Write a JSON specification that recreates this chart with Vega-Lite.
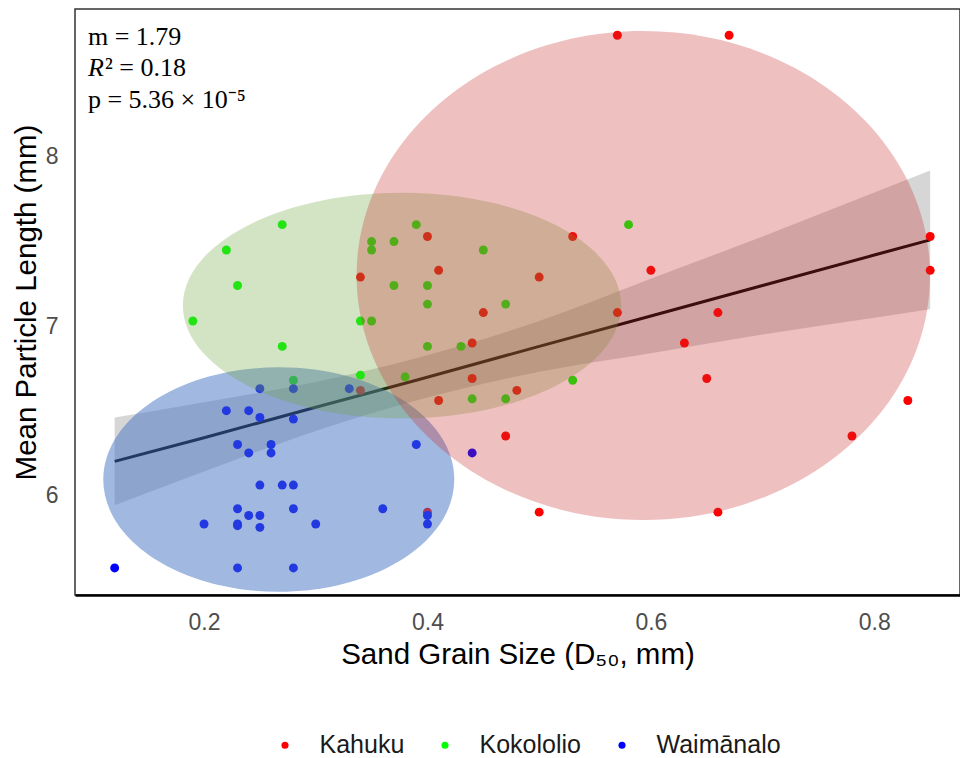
{
  "$schema": "https://vega.github.io/schema/vega-lite/v6.json",
  "width": 885,
  "height": 586,
  "autosize": {"type": "none"},
  "padding": {"left": 75, "top": 9, "right": 0, "bottom": 163},
  "background": "white",
  "config": {
    "view": {"stroke": "#333333", "strokeWidth": 1.5},
    "font": "Liberation Sans",
    "axis": {
      "grid": false,
      "ticks": false,
      "tickSize": 0,
      "labelFont": "Liberation Sans",
      "labelFontSize": 23,
      "labelColor": "#4d4d4d",
      "titleFont": "Liberation Sans",
      "titleFontSize": 29.5,
      "titleFontWeight": "normal",
      "titleColor": "#000000"
    }
  },
  "datasets": {
    "points": [
      {"site": "Kahuku", "d50": 0.34, "len": 7.29},
      {"site": "Kahuku", "d50": 0.40, "len": 7.53},
      {"site": "Kahuku", "d50": 0.41, "len": 7.33},
      {"site": "Kahuku", "d50": 0.34, "len": 6.62},
      {"site": "Kahuku", "d50": 0.41, "len": 6.56},
      {"site": "Kahuku", "d50": 0.40, "len": 5.90},
      {"site": "Kahuku", "d50": 0.45, "len": 7.08},
      {"site": "Kahuku", "d50": 0.44, "len": 6.90},
      {"site": "Kahuku", "d50": 0.44, "len": 6.69},
      {"site": "Kahuku", "d50": 0.48, "len": 6.62},
      {"site": "Kahuku", "d50": 0.50, "len": 7.29},
      {"site": "Kahuku", "d50": 0.53, "len": 7.53},
      {"site": "Kahuku", "d50": 0.57, "len": 7.08},
      {"site": "Kahuku", "d50": 0.60, "len": 7.33},
      {"site": "Kahuku", "d50": 0.57, "len": 8.72},
      {"site": "Kahuku", "d50": 0.67, "len": 8.72},
      {"site": "Kahuku", "d50": 0.85, "len": 7.53},
      {"site": "Kahuku", "d50": 0.85, "len": 7.33},
      {"site": "Kahuku", "d50": 0.66, "len": 7.08},
      {"site": "Kahuku", "d50": 0.63, "len": 6.90},
      {"site": "Kahuku", "d50": 0.65, "len": 6.69},
      {"site": "Kahuku", "d50": 0.83, "len": 6.56},
      {"site": "Kahuku", "d50": 0.47, "len": 6.35},
      {"site": "Kahuku", "d50": 0.78, "len": 6.35},
      {"site": "Kahuku", "d50": 0.50, "len": 5.90},
      {"site": "Kahuku", "d50": 0.66, "len": 5.90},
      {"site": "Kokololio", "d50": 0.27, "len": 7.60},
      {"site": "Kokololio", "d50": 0.22, "len": 7.45},
      {"site": "Kokololio", "d50": 0.23, "len": 7.24},
      {"site": "Kokololio", "d50": 0.19, "len": 7.03},
      {"site": "Kokololio", "d50": 0.27, "len": 6.88},
      {"site": "Kokololio", "d50": 0.28, "len": 6.68},
      {"site": "Kokololio", "d50": 0.34, "len": 6.71},
      {"site": "Kokololio", "d50": 0.34, "len": 7.03},
      {"site": "Kokololio", "d50": 0.35, "len": 7.03},
      {"site": "Kokololio", "d50": 0.35, "len": 7.50},
      {"site": "Kokololio", "d50": 0.35, "len": 7.45},
      {"site": "Kokololio", "d50": 0.37, "len": 7.50},
      {"site": "Kokololio", "d50": 0.39, "len": 7.60},
      {"site": "Kokololio", "d50": 0.37, "len": 7.24},
      {"site": "Kokololio", "d50": 0.40, "len": 7.24},
      {"site": "Kokololio", "d50": 0.40, "len": 7.13},
      {"site": "Kokololio", "d50": 0.40, "len": 6.88},
      {"site": "Kokololio", "d50": 0.38, "len": 6.70},
      {"site": "Kokololio", "d50": 0.45, "len": 7.45},
      {"site": "Kokololio", "d50": 0.47, "len": 7.13},
      {"site": "Kokololio", "d50": 0.43, "len": 6.88},
      {"site": "Kokololio", "d50": 0.44, "len": 6.57},
      {"site": "Kokololio", "d50": 0.47, "len": 6.57},
      {"site": "Kokololio", "d50": 0.58, "len": 7.60},
      {"site": "Kokololio", "d50": 0.53, "len": 6.68},
      {"site": "Waimānalo", "d50": 0.25, "len": 6.63},
      {"site": "Waimānalo", "d50": 0.28, "len": 6.63},
      {"site": "Waimānalo", "d50": 0.33, "len": 6.63},
      {"site": "Waimānalo", "d50": 0.22, "len": 6.50},
      {"site": "Waimānalo", "d50": 0.24, "len": 6.50},
      {"site": "Waimānalo", "d50": 0.25, "len": 6.46},
      {"site": "Waimānalo", "d50": 0.28, "len": 6.45},
      {"site": "Waimānalo", "d50": 0.23, "len": 6.30},
      {"site": "Waimānalo", "d50": 0.26, "len": 6.30},
      {"site": "Waimānalo", "d50": 0.24, "len": 6.25},
      {"site": "Waimānalo", "d50": 0.26, "len": 6.25},
      {"site": "Waimānalo", "d50": 0.39, "len": 6.30},
      {"site": "Waimānalo", "d50": 0.25, "len": 6.06},
      {"site": "Waimānalo", "d50": 0.27, "len": 6.06},
      {"site": "Waimānalo", "d50": 0.28, "len": 6.06},
      {"site": "Waimānalo", "d50": 0.23, "len": 5.92},
      {"site": "Waimānalo", "d50": 0.28, "len": 5.92},
      {"site": "Waimānalo", "d50": 0.36, "len": 5.92},
      {"site": "Waimānalo", "d50": 0.24, "len": 5.88},
      {"site": "Waimānalo", "d50": 0.25, "len": 5.88},
      {"site": "Waimānalo", "d50": 0.40, "len": 5.88},
      {"site": "Waimānalo", "d50": 0.20, "len": 5.83},
      {"site": "Waimānalo", "d50": 0.23, "len": 5.83},
      {"site": "Waimānalo", "d50": 0.23, "len": 5.82},
      {"site": "Waimānalo", "d50": 0.25, "len": 5.81},
      {"site": "Waimānalo", "d50": 0.30, "len": 5.83},
      {"site": "Waimānalo", "d50": 0.40, "len": 5.83},
      {"site": "Waimānalo", "d50": 0.12, "len": 5.57},
      {"site": "Waimānalo", "d50": 0.23, "len": 5.57},
      {"site": "Waimānalo", "d50": 0.28, "len": 5.57},
      {"site": "Waimānalo", "d50": 0.44, "len": 6.25}
    ],
    "fit": [
      {"d50": 0.12, "fit": 6.20, "lo": 5.94, "hi": 6.46},
      {"d50": 0.20, "fit": 6.34, "lo": 6.14, "hi": 6.55},
      {"d50": 0.30, "fit": 6.52, "lo": 6.38, "hi": 6.67},
      {"d50": 0.39, "fit": 6.68, "lo": 6.56, "hi": 6.81},
      {"d50": 0.50, "fit": 6.88, "lo": 6.73, "hi": 7.03},
      {"d50": 0.60, "fit": 7.06, "lo": 6.84, "hi": 7.28},
      {"d50": 0.70, "fit": 7.24, "lo": 6.95, "hi": 7.53},
      {"d50": 0.80, "fit": 7.42, "lo": 7.05, "hi": 7.79},
      {"d50": 0.85, "fit": 7.51, "lo": 7.10, "hi": 7.92}
    ],
    "ellipses": [
      {"site": "Kahuku", "cx": 0.5932, "cy": 7.299},
      {"site": "Kokololio", "cx": 0.3772, "cy": 7.1216},
      {"site": "Waimānalo", "cx": 0.2669, "cy": 6.0926}
    ]
  },
  "layer": [
    {
      "data": {"name": "fit"},
      "mark": {"type": "area", "color": "#999999", "opacity": 0.4, "interpolate": "monotone"},
      "encoding": {
        "x": {
          "field": "d50", "type": "quantitative",
          "scale": {"domain": [0.0845, 0.8767], "nice": false, "zero": false},
          "axis": {"title": "Sand Grain Size (D₅₀, mm)", "values": [0.2, 0.4, 0.6, 0.8], "format": ".1f", "labelPadding": 16, "titlePadding": 6, "domainColor": "#000000", "domainWidth": 2.5}
        },
        "y": {
          "field": "lo", "type": "quantitative",
          "scale": {"domain": [5.41, 8.875], "nice": false, "zero": false},
          "axis": {"title": "Mean Particle Length (mm)", "values": [6, 7, 8], "format": ".0f", "labelPadding": 17, "titlePadding": 4, "domain": false}
        },
        "y2": {"field": "hi"}
      }
    },
    {
      "data": {"name": "fit"},
      "mark": {"type": "line", "color": "#000000", "strokeWidth": 3},
      "encoding": {
        "x": {"field": "d50", "type": "quantitative"},
        "y": {"field": "fit", "type": "quantitative"}
      }
    },
    {
      "data": {"name": "points"},
      "mark": {"type": "point", "filled": true, "opacity": 1, "size": 80, "shape": "circle"},
      "encoding": {
        "x": {"field": "d50", "type": "quantitative"},
        "y": {"field": "len", "type": "quantitative"},
        "color": {
          "field": "site", "type": "nominal",
          "scale": {"domain": ["Kahuku", "Kokololio", "Waimānalo"], "range": ["#FF0000", "#00FF00", "#0000FF"]},
          "legend": {
            "orient": "none", "legendX": 197.5, "legendY": 723.5, "direction": "horizontal",
            "title": null, "symbolType": "circle", "symbolSize": 50, "symbolStrokeWidth": 0,
            "labelFont": "Liberation Sans", "labelFontSize": 25, "labelColor": "#1a1a1a",
            "labelOffset": 22, "columnPadding": 28, "padding": 0
          }
        }
      }
    },
    {
      "data": {"name": "ellipses"},
      "transform": [{"filter": "datum.site === 'Waimānalo'"}],
      "mark": {"type": "point", "filled": true, "fill": "#4472C4", "opacity": 0.5, "strokeWidth": 0, "size": 123201,
        "shape": "M 1 0 C 1 0.3531 0.5523 0.6393 0 0.6393 C -0.5523 0.6393 -1 0.3531 -1 0 C -1 -0.3531 -0.5523 -0.6393 0 -0.6393 C 0.5523 -0.6393 1 -0.3531 1 0 Z"},
      "encoding": {
        "x": {"field": "cx", "type": "quantitative"},
        "y": {"field": "cy", "type": "quantitative"}
      }
    },
    {
      "data": {"name": "ellipses"},
      "transform": [{"filter": "datum.site === 'Kokololio'"}],
      "mark": {"type": "point", "filled": true, "fill": "#6CA53A", "opacity": 0.3, "strokeWidth": 0, "size": 192019,
        "shape": "M 1 0 C 1 0.2843 0.5523 0.5148 0 0.5148 C -0.5523 0.5148 -1 0.2843 -1 0 C -1 -0.2843 -0.5523 -0.5148 0 -0.5148 C 0.5523 -0.5148 1 -0.2843 1 0 Z"},
      "encoding": {
        "x": {"field": "cx", "type": "quantitative"},
        "y": {"field": "cy", "type": "quantitative"}
      }
    },
    {
      "data": {"name": "ellipses"},
      "transform": [{"filter": "datum.site === 'Kahuku'"}],
      "mark": {"type": "point", "filled": true, "fill": "#C63030", "opacity": 0.3, "strokeWidth": 0, "size": 328788,
        "shape": "M 1 0 C 1 0.4709 0.5523 0.8527 0 0.8527 C -0.5523 0.8527 -1 0.4709 -1 0 C -1 -0.4709 -0.5523 -0.8527 0 -0.8527 C 0.5523 -0.8527 1 -0.4709 1 0 Z"},
      "encoding": {
        "x": {"field": "cx", "type": "quantitative"},
        "y": {"field": "cy", "type": "quantitative"}
      }
    },
    {
      "data": {"values": [{"t": "m = 1.79"}]},
      "mark": {"type": "text", "font": "Liberation Serif", "fontSize": 26, "align": "left", "baseline": "middle", "color": "#000000"},
      "encoding": {"x": {"datum": 0.0961}, "y": {"datum": 8.711}, "text": {"field": "t"}}
    },
    {
      "data": {"values": [{"t": "R"}]},
      "mark": {"type": "text", "font": "Liberation Serif", "fontSize": 26, "fontStyle": "italic", "align": "left", "baseline": "middle", "color": "#000000"},
      "encoding": {"x": {"datum": 0.0961}, "y": {"datum": 8.526}, "text": {"field": "t"}}
    },
    {
      "data": {"values": [{"t": "² = 0.18"}]},
      "mark": {"type": "text", "font": "Liberation Serif", "fontSize": 26, "align": "left", "baseline": "middle", "dx": 17, "color": "#000000"},
      "encoding": {"x": {"datum": 0.0961}, "y": {"datum": 8.526}, "text": {"field": "t"}}
    },
    {
      "data": {"values": [{"t": "p = 5.36 × 10⁻⁵"}]},
      "mark": {"type": "text", "font": "Liberation Serif", "fontSize": 26, "align": "left", "baseline": "middle", "color": "#000000"},
      "encoding": {"x": {"datum": 0.0961}, "y": {"datum": 8.337}, "text": {"field": "t"}}
    }
  ]
}
